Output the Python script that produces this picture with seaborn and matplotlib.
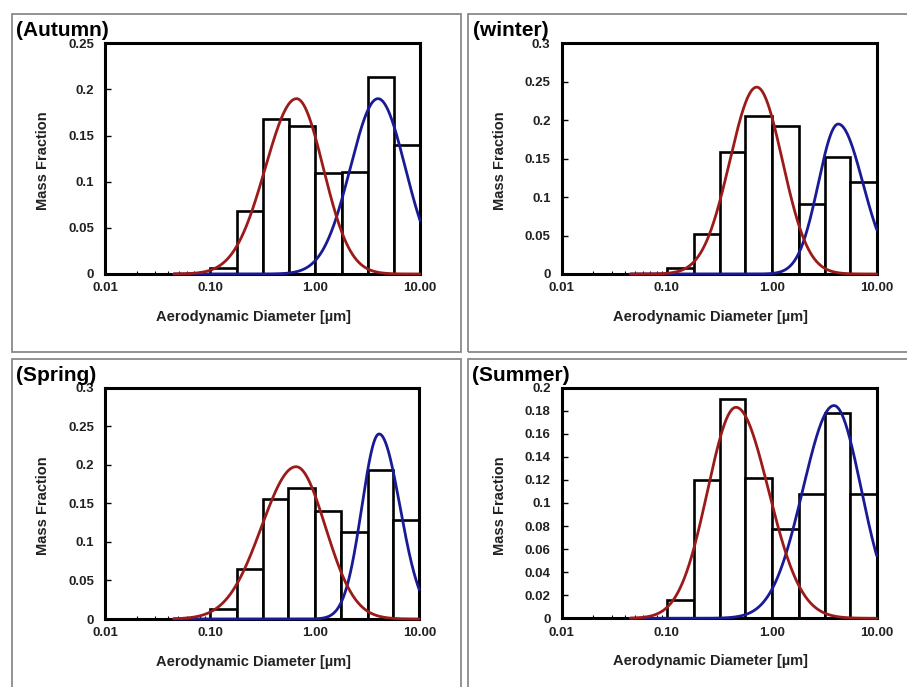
import numpy as np
import pandas as pd
import matplotlib
matplotlib.use("Agg")
import matplotlib.pyplot as plt
import seaborn as sns
from matplotlib.patches import Rectangle
from matplotlib.ticker import FixedLocator, FixedFormatter, LogLocator, NullFormatter

sns.set_theme(style="white")
plt.rcParams['font.family'] = ['Liberation Sans', 'DejaVu Sans']
plt.rcParams['font.weight'] = 'bold'

# ---------------- data ----------------
bin_edges = [0.10, 0.18, 0.32, 0.56, 1.0, 1.8, 3.2, 5.6, 10.0]
panel_titles = ["(Autumn)", "(winter)", "(Spring)", "(Summer)"]

autumn_frac = [0.007, 0.068, 0.168, 0.160, 0.109, 0.111, 0.214, 0.140]
winter_frac = [0.0075, 0.052, 0.159, 0.205, 0.193, 0.091, 0.152, 0.119]
spring_frac = [0.0125, 0.065, 0.155, 0.170, 0.140, 0.113, 0.193, 0.128]
summer_frac = [0.0155, 0.120, 0.190, 0.122, 0.0775, 0.1075, 0.178, 0.1075]
season_fracs = [autumn_frac, winter_frac, spring_frac, summer_frac]

# fitted modes (peak height, modal diameter, log10 widths left / right)
fine_peak = [0.190, 0.243, 0.1975, 0.183]
fine_center = [0.665, 0.72, 0.665, 0.457]
fine_sig_left = [0.297, 0.256, 0.33, 0.27]
fine_sig_right = [0.255, 0.245, 0.28, 0.31]
coarse_peak = [0.190, 0.195, 0.240, 0.1845]
coarse_center = [3.98, 4.3, 4.13, 3.92]
coarse_sig_left = [0.264, 0.189, 0.165, 0.296]
coarse_sig_right = [0.26, 0.235, 0.2, 0.26]
curve_start, curve_end = 0.045, 10.0

y_max = [0.25, 0.3, 0.3, 0.2]
y_step = [0.05, 0.05, 0.05, 0.02]
x_ticks = [0.01, 0.1, 1, 10]
x_tick_labels = ["0.01", "0.10", "1.00", "10.00"]
x_label = "Aerodynamic Diameter [µm]"
y_label = "Mass Fraction"

RED = "#9B1A1A"
BLUE = "#1A1A96"

# ---------------- layout (pixels) ----------------
W, H = 907, 687
axes_px = [(105.3, 43.3, 420.0, 274.0),
           (561.7, 43.3, 876.7, 274.0),
           (105.3, 387.7, 419.3, 619.0),
           (561.7, 387.7, 876.7, 618.3)]
boxes_px = [(12, 14, 461, 352), (468, 14, 920, 352),
            (12, 359, 461, 700), (468, 359, 920, 700)]
title_px = [(16, 36.5), (473, 36.5), (16, 381), (472, 381)]


def mode_curve(d, peak, center, sl, sr):
    z = np.log10(d) - np.log10(center)
    s = np.where(z < 0, sl, sr)
    return peak * np.exp(-0.5 * (z / s) ** 2)


fig = plt.figure(figsize=(W / 100, H / 100), dpi=100)
fig.patch.set_facecolor("white")

for (x0, y0, x1, y1) in boxes_px:
    fig.add_artist(Rectangle((x0 / W, 1 - y1 / H), (x1 - x0) / W, (y1 - y0) / H,
                             transform=fig.transFigure, fill=False,
                             edgecolor="#8a8a8a", linewidth=1.3, zorder=0))

edges = np.array(bin_edges)
centers = np.sqrt(edges[:-1] * edges[1:])
d_grid = np.logspace(np.log10(curve_start), np.log10(curve_end), 600)

for i in range(4):
    x0, y0, x1, y1 = axes_px[i]
    ax = fig.add_axes([x0 / W, 1 - y1 / H, (x1 - x0) / W, (y1 - y0) / H])
    ax.set_facecolor("white")

    df = pd.DataFrame({"d": centers, "frac": season_fracs[i]})
    sns.histplot(data=df, x="d", weights="frac", bins=bin_edges, stat="count",
                 color="white", edgecolor="black", linewidth=1.9, alpha=1.0,
                 ax=ax, legend=False)

    fine = mode_curve(d_grid, fine_peak[i], fine_center[i], fine_sig_left[i], fine_sig_right[i])
    coarse = mode_curve(d_grid, coarse_peak[i], coarse_center[i], coarse_sig_left[i], coarse_sig_right[i])
    sns.lineplot(x=d_grid, y=coarse, color=BLUE, linewidth=2.0, ax=ax,
                 estimator=None, sort=False, zorder=3, clip_on=False)
    sns.lineplot(x=d_grid, y=fine, color=RED, linewidth=2.0, ax=ax,
                 estimator=None, sort=False, zorder=3, clip_on=False)

    ax.set_xscale("log")
    ax.set_xlim(0.01, 10)
    ax.set_ylim(0, y_max[i])

    ax.xaxis.set_major_locator(FixedLocator(x_ticks))
    ax.xaxis.set_major_formatter(FixedFormatter(x_tick_labels))
    ax.xaxis.set_minor_locator(LogLocator(base=10, subs=np.arange(2, 10)))
    ax.xaxis.set_minor_formatter(NullFormatter())

    yt = np.round(np.arange(0, y_max[i] + 1e-9, y_step[i]), 4)
    ax.yaxis.set_major_locator(FixedLocator(yt))
    ax.yaxis.set_major_formatter(FixedFormatter([f"{t:g}" for t in yt]))

    ax.tick_params(axis="both", which="both", direction="in", colors="black",
                   bottom=True, left=True, top=False, right=False)
    ax.tick_params(axis="x", which="major", length=4, width=1.0, pad=6, labelsize=9.5)
    ax.tick_params(axis="x", which="minor", length=2.5, width=0.8)
    ax.tick_params(axis="y", which="major", length=4, width=1.0, pad=8, labelsize=9.5)
    for lab in ax.get_xticklabels() + ax.get_yticklabels():
        lab.set_fontweight("bold")
        lab.set_color("#222222")

    for sp in ax.spines.values():
        sp.set_visible(True)
        sp.set_color("black")
        sp.set_linewidth(2.2)

    ax.set_xlabel(x_label, fontsize=10.5, fontweight="bold", va="center", color="#222222")
    ax.xaxis.set_label_coords(0.472, -0.185)
    ax.set_ylabel(y_label, fontsize=10.5, fontweight="bold", va="center", color="#222222")
    ax.yaxis.set_label_coords(-0.197, 0.49)

    tx, ty = title_px[i]
    fig.text(tx / W, 1 - ty / H, panel_titles[i], fontsize=15, fontweight="bold",
             ha="left", va="baseline", color="black")

fig.savefig("out.png", dpi=100)
